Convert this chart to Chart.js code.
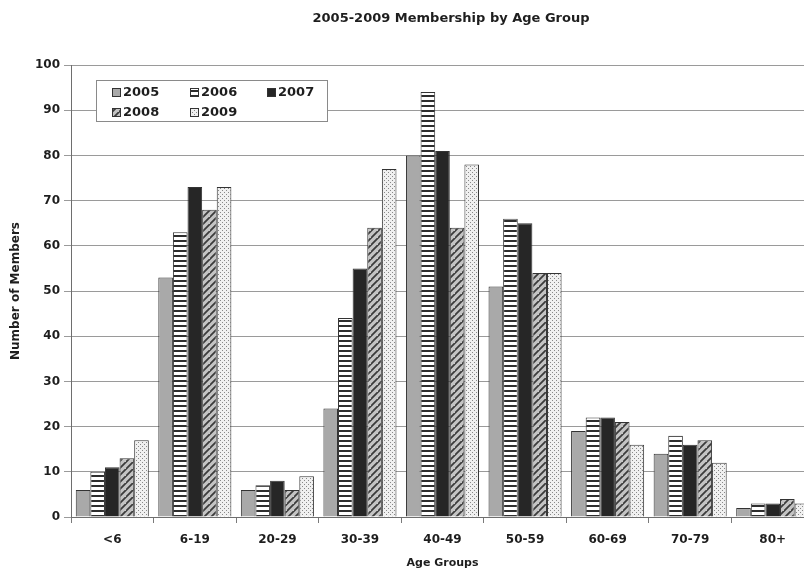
<!DOCTYPE html>
<html>
<head>
<meta charset="utf-8">
<script src="https://cdn.jsdelivr.net/npm/chart.js@4/dist/chart.umd.min.js"></script>
<style>
  html, body { margin: 0; padding: 0; background: #fff; overflow: hidden; }
  #wrap { width: 902px; height: 575px; }
</style>
</head>
<body>
<div id="wrap"><canvas id="c" width="902" height="575"></canvas></div>
<script>
// Age groups on the x axis
const ageGroups = ['<6', '6-19', '20-29', '30-39', '40-49', '50-59', '60-69', '70-79', '80+'];
// Membership year series
const years = ['2005', '2006', '2007', '2008', '2009'];
const members2005 = [6, 53, 6, 24, 80, 51, 19, 14, 2];
const members2006 = [10, 63, 7, 44, 94, 66, 22, 18, 3];
const members2007 = [11, 73, 8, 55, 81, 65, 22, 16, 3];
const members2008 = [13, 68, 6, 64, 64, 54, 21, 17, 4];
const members2009 = [17, 73, 9, 77, 78, 54, 16, 12, 3];
const yTicks = [0, 10, 20, 30, 40, 50, 60, 70, 80, 90, 100];
const chartTitle = '2005-2009 Membership by Age Group';

const FONT = "'DejaVu Sans', 'Liberation Sans', Arial, sans-serif";
const TEXT = '#1e1e1e';

function makePattern(w, h, paint) {
  const cv = document.createElement('canvas');
  cv.width = w; cv.height = h;
  const g = cv.getContext('2d');
  paint(g, w, h);
  return document.getElementById('c').getContext('2d').createPattern(cv, 'repeat');
}

// Fills: solid gray, horizontal stripes, solid black, diagonal hatch, dots
const fillSolidGray = '#a9a9a9';
const fillStripes = makePattern(5, 5, (g, w, h) => {
  g.fillStyle = '#ffffff'; g.fillRect(0, 0, w, h);
  g.fillStyle = '#2e2e2e'; g.fillRect(0, 0, w, 2);
});
const fillBlack = '#262626';
const fillHatch = makePattern(7, 7, (g, w, h) => {
  g.fillStyle = '#c4c4c4'; g.fillRect(0, 0, w, h);
  g.strokeStyle = '#3c3c3c'; g.lineWidth = 1.8;
  g.beginPath();
  g.moveTo(-1, h + 1); g.lineTo(w + 1, -1);
  g.moveTo(-1 - w, h + 1); g.lineTo(1, -1);
  g.moveTo(w - 1, 2 * h + 1); g.lineTo(2 * w + 1, h - 1);
  g.stroke();
});
const fillDots = makePattern(4, 4, (g, w, h) => {
  g.fillStyle = '#f0f0f0'; g.fillRect(0, 0, w, h);
  g.fillStyle = '#888888';
  g.fillRect(0, 0, 1, 1);
  g.fillRect(2, 2, 1, 1);
});

const fills = [fillSolidGray, fillStripes, fillBlack, fillHatch, fillDots];
const series = [members2005, members2006, members2007, members2008, members2009];

const datasets = years.map((y, i) => ({
  label: y,
  data: series[i],
  backgroundColor: fills[i],
  borderColor: '#333333',
  borderWidth: 1,
  borderSkipped: 'start',
  categoryPercentage: 0.885,
  barPercentage: 1.0
}));

// Title centred over the whole figure
const figureTitle = {
  id: 'figureTitle',
  afterDraw(chart) {
    const ctx = chart.ctx;
    ctx.save();
    ctx.font = "bold 13px " + FONT;
    ctx.fillStyle = TEXT;
    ctx.textAlign = 'center';
    ctx.textBaseline = 'middle';
    ctx.fillText(chartTitle, 451, 19);
    ctx.restore();
  }
};

// Boxed legend inside the plot, two rows
const boxedLegend = {
  id: 'boxedLegend',
  afterDraw(chart) {
    const ctx = chart.ctx;
    const left = 96, top = 80, w = 231, h = 41;
    ctx.save();
    ctx.fillStyle = '#ffffff';
    ctx.fillRect(left, top, w, h);
    ctx.strokeStyle = '#8a8a8a';
    ctx.lineWidth = 1;
    ctx.strokeRect(left + 0.5, top + 0.5, w, h);
    const cols = [112, 190, 267];
    const rows = [92, 112];
    ctx.font = "bold 13px " + FONT;
    ctx.textBaseline = 'middle';
    chart.data.datasets.forEach((ds, i) => {
      const x = cols[i % 3], y = rows[Math.floor(i / 3)];
      ctx.fillStyle = ds.backgroundColor;
      ctx.fillRect(x, y - 4, 8, 8);
      ctx.strokeStyle = '#333333';
      ctx.strokeRect(x + 0.5, y - 3.5, 8, 8);
      ctx.fillStyle = TEXT;
      ctx.fillText(ds.label, x + 11, y + 1);
    });
    ctx.restore();
  }
};

new Chart(document.getElementById('c'), {
  type: 'bar',
  data: { labels: ageGroups, datasets },
  plugins: [figureTitle, boxedLegend],
  options: {
    responsive: false,
    animation: false,
    layout: { padding: { left: 0, right: 88, top: 65, bottom: 0 } },
    plugins: {
      legend: { display: false },
      tooltip: { enabled: false },
      title: { display: false }
    },
    scales: {
      x: {
        grid: {
          display: true,
          drawOnChartArea: false,
          drawTicks: true,
          tickLength: 6,
          color: '#7a7a7a',
          offset: true
        },
        border: { color: '#6e6e6e', width: 1 },
        ticks: {
          color: TEXT,
          font: { family: FONT, size: 12, weight: 'bold' },
          padding: 10,
          maxRotation: 0
        },
        title: {
          display: true,
          text: 'Age Groups',
          color: TEXT,
          font: { family: FONT, size: 11, weight: 'bold' },
          padding: { top: 4, bottom: 5 }
        },
        afterFit(scale) { scale.height = 58; }
      },
      y: {
        min: 0,
        max: 100,
        afterBuildTicks(scale) { scale.ticks = yTicks.map(v => ({ value: v })); },
        grid: {
          color: '#9a9a9a',
          lineWidth: 1,
          drawTicks: true,
          tickLength: 7
        },
        border: { color: '#6e6e6e', width: 1 },
        ticks: {
          color: TEXT,
          font: { family: FONT, size: 12, weight: 'bold' },
          padding: 4
        },
        title: {
          display: true,
          text: 'Number of Members',
          color: TEXT,
          font: { family: FONT, size: 12, weight: 'bold' },
          padding: { top: 9, bottom: 4 }
        },
        afterFit(scale) { scale.width = 71; }
      }
    }
  }
});
</script>
</body>
</html>
